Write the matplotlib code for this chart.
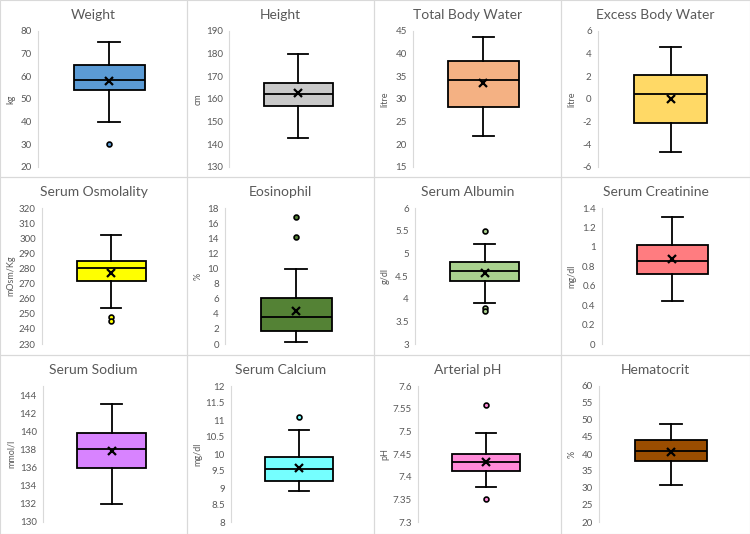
import matplotlib.pyplot as plt
from matplotlib.patches import Rectangle
import numpy as np

# panel data
titles = ["Weight", "Height", "Total Body Water", "Excess Body Water",
          "Serum Osmolality", "Eosinophil", "Serum Albumin", "Serum Creatinine",
          "Serum Sodium", "Serum Calcium", "Arterial pH", "Hematocrit"]
units = ["kg", "cm", "litre", "litre", "mOsm/Kg", "%", "g/dl", "mg/dl",
         "mmol/l", "mg/dl", "pH", "%"]
colors = ["#5B9BD5", "#C9C9C9", "#F4B183", "#FFD966", "#FFFF00", "#548235",
          "#A9D18E", "#FF7C80", "#D883FF", "#75FFFF", "#FF8AD8", "#9A4D00"]

whislo = [40, 143, 21.8, -4.7, 254, 0.2, 3.9, 0.44, 132, 8.9, 7.378, 31]
q1 = [54, 157, 28.3, -2.1, 272, 1.7, 4.4, 0.72, 136, 9.2, 7.412, 38]
med = [58.5, 162, 34.3, 0.4, 280, 3.6, 4.6, 0.85, 138, 9.55, 7.433, 40.8]
q3 = [65, 167, 38.4, 2.1, 285, 6.1, 4.8, 1.02, 139.8, 9.9, 7.449, 44.2]
whishi = [75, 180, 43.6, 4.6, 302, 9.9, 5.2, 1.31, 143, 10.7, 7.497, 48.8]
means = [58, 162.7, 33.5, 0.0, 277, 4.4, 4.57, 0.87, 137.8, 9.6, 7.432, 40.7]
fliers = [[30], [], [], [], [248, 245], [14.2, 16.8], [5.5, 3.8, 3.72], [],
          [], [11.1], [7.558, 7.35], []]

ymin = [20, 130, 15, -6, 230, 0, 3, 0, 130, 8, 7.3, 20]
ymax = [80, 190, 45, 6, 320, 18, 6, 1.4, 145, 12, 7.6, 60]
ystep = [10, 10, 5, 2, 10, 2, 0.5, 0.2, 2, 0.5, 0.05, 5]
ytop_tick = [80, 190, 45, 6, 320, 18, 6, 1.4, 144, 12, 7.6, 60]

# left edge of plot area inside each panel (px)
ax_left = [38, 42, 39, 37, 42, 38, 41, 41, 43, 44, 44, 38]

W, H = 750, 534
fig = plt.figure(figsize=(W / 100, H / 100), dpi=100)
fig.patch.set_facecolor("white")
plt.rcParams['font.family'] = ['Lato', 'DejaVu Sans']

col_x = [0, 187, 374, 561, 750]
row_y = [0, 177, 355, 534]
grey = "#595959"

for i in range(12):
    r, c = divmod(i, 4)
    px0, px1 = col_x[c], col_x[c + 1]
    py0, py1 = row_y[r], row_y[r + 1]
    # panel border
    fig.patches.append(Rectangle((px0 / W, 1 - py1 / H), (px1 - px0) / W, (py1 - py0) / H,
                                 transform=fig.transFigure, fill=False,
                                 edgecolor="#D9D9D9", lw=0.8))
    left = px0 + ax_left[i]
    right = px1 - 7
    top = py0 + 31
    bottom = py0 + 167
    ax = fig.add_axes([left / W, 1 - bottom / H, (right - left) / W, (bottom - top) / H])

    stats = [dict(whislo=whislo[i], q1=q1[i], med=med[i], q3=q3[i],
                  whishi=whishi[i], mean=means[i], fliers=fliers[i])]
    ax.bxp(stats, positions=[1], widths=0.5, capwidths=0.15, showmeans=True,
           patch_artist=True,
           boxprops=dict(facecolor=colors[i], edgecolor="black", lw=1.3),
           medianprops=dict(color="black", lw=1.3),
           whiskerprops=dict(color="black", lw=1.3),
           capprops=dict(color="black", lw=1.3),
           meanprops=dict(marker="x", markeredgecolor="black", markersize=6,
                          markeredgewidth=1.6),
           flierprops=dict(marker="o", markerfacecolor=colors[i],
                           markeredgecolor="black", markersize=3.5,
                           markeredgewidth=1.2))
    ax.set_xlim(0.5, 1.5)
    ax.set_ylim(ymin[i], ymax[i])
    ticks = np.arange(ymin[i], ytop_tick[i] + ystep[i] / 2, ystep[i])
    ax.set_yticks(ticks)
    ax.set_yticklabels([f"{t:g}" for t in np.round(ticks, 2)])
    ax.set_xticks([])
    for s in ["top", "right", "bottom"]:
        ax.spines[s].set_visible(False)
    ax.spines["left"].set_color("#D9D9D9")
    ax.spines["left"].set_linewidth(0.8)
    ax.tick_params(axis="y", length=0, pad=4.5, labelsize=7, labelcolor=grey)
    ax.patch.set_alpha(0)

    fig.text((px0 + px1) / 2 / W, 1 - (py0 + 15) / H, titles[i], ha="center",
             va="center", fontsize=10, color=grey)
    fig.text((px0 + 11) / W, 1 - (py0 + 99) / H, units[i], ha="center",
             va="center", rotation=90, fontsize=6.5, color=grey)

fig.savefig("out.png", dpi=100)
